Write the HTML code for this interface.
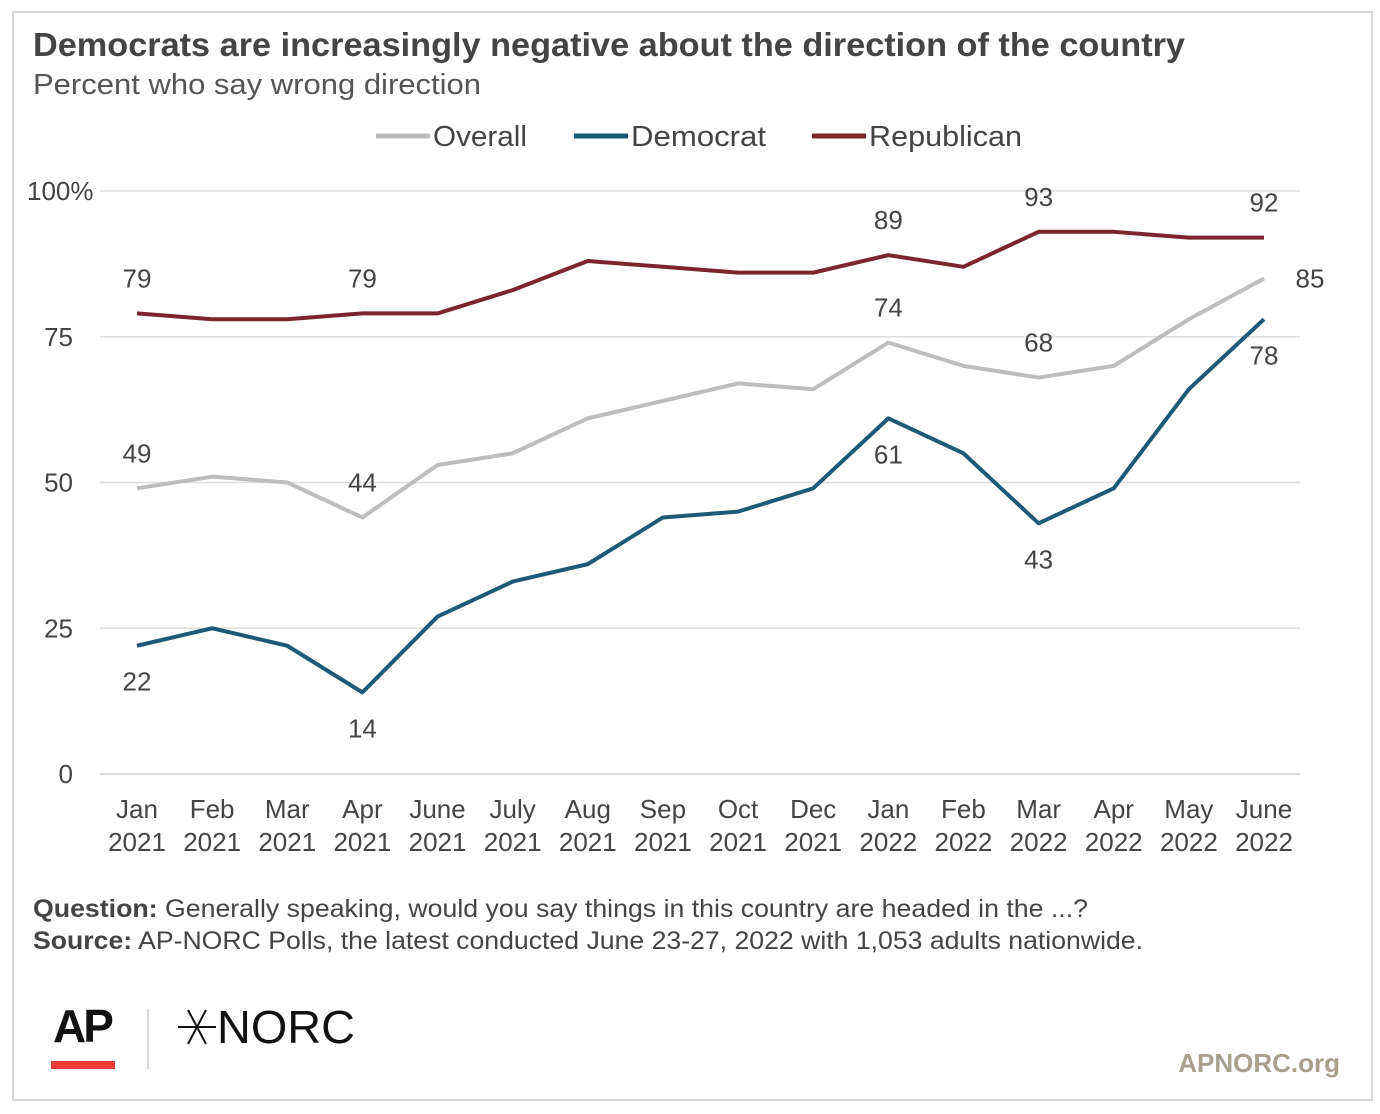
<!DOCTYPE html>
<html><head><meta charset="utf-8"><style>
html,body{margin:0;padding:0;background:#fff}
svg{display:block;font-family:"Liberation Sans",sans-serif}
</style></head><body>
<svg id="chart" width="1380" height="1114" viewBox="0 0 1380 1114">
<rect x="13" y="12" width="1359" height="1088" fill="#fff" stroke="#d6d6d6" stroke-width="2"/>
<text x="33" y="56" font-size="33" font-weight="bold" fill="#444" textLength="1152" lengthAdjust="spacingAndGlyphs">Democrats are increasingly negative about the direction of the country</text>
<text x="33" y="94" font-size="29" fill="#555" textLength="448" lengthAdjust="spacingAndGlyphs">Percent who say wrong direction</text>
<g font-size="29" fill="#444">
<line x1="376" y1="136" x2="430" y2="136" stroke="#bcbcbc" stroke-width="5"/>
<text x="433" y="146" textLength="94" lengthAdjust="spacingAndGlyphs">Overall</text>
<line x1="574" y1="136" x2="628" y2="136" stroke="#1e5a78" stroke-width="5"/>
<text x="631" y="146" textLength="135" lengthAdjust="spacingAndGlyphs">Democrat</text>
<line x1="812" y1="136" x2="866" y2="136" stroke="#7e2431" stroke-width="5"/>
<text x="869" y="146" textLength="153" lengthAdjust="spacingAndGlyphs">Republican</text>
</g>
<g id="grid"></g>
<g id="yticks" font-size="26" fill="#444"></g>
<g id="xticks" font-size="26" fill="#444" text-anchor="middle"></g>
<g id="series"></g>
<g id="labels" font-size="26" fill="#444" text-anchor="middle"></g>
<text x="33" y="917" font-size="25" fill="#444" textLength="1055" lengthAdjust="spacingAndGlyphs"><tspan font-weight="bold">Question:</tspan>  Generally speaking, would you say things in this country are headed in the ...?</text>
<text x="33" y="949" font-size="25" fill="#444" textLength="1110" lengthAdjust="spacingAndGlyphs"><tspan font-weight="bold">Source:</tspan> AP-NORC Polls, the latest conducted June 23-27, 2022 with 1,053 adults nationwide.</text>
<g>
<text x="53" y="1042" font-size="46" font-weight="bold" fill="#111" letter-spacing="-3">AP</text>
<rect x="51" y="1061" width="64" height="8" fill="#ef3b36"/>
</g>
<line x1="148" y1="1009" x2="148" y2="1069" stroke="#ccc" stroke-width="1.5"/>
<g>
<path d="M178 1027 H216 M188 1010 L206 1044 M206 1010 L188 1044" stroke="#111" stroke-width="2" fill="none"/>
<text x="217" y="1043" font-size="46" fill="#111" textLength="138" lengthAdjust="spacingAndGlyphs">NORC</text>
</g>
<text x="1340" y="1072" font-size="26" font-weight="bold" fill="#a89f8f" text-anchor="end">APNORC.org</text>
</svg>
<script>
const months=["Jan","Feb","Mar","Apr","June","July","Aug","Sep","Oct","Dec","Jan","Feb","Mar","Apr","May","June"];
const years=["2021","2021","2021","2021","2021","2021","2021","2021","2021","2021","2022","2022","2022","2022","2022","2022"];
const overall=[49,51,50,44,53,55,61,64,67,66,74,70,68,70,78,85];
const democrat=[22,25,22,14,27,33,36,44,45,49,61,55,43,49,66,78];
const republican=[79,78,78,79,79,83,88,87,86,86,89,87,93,93,92,92];
const yTicks=[0,25,50,75,100];
const yTickLabels=["0","25","50","75","100%"];
const overallLabelIdx=[0,3,10,12];
const democratLabelIdx=[0,3,10,12,15];
const republicanLabelIdx=[0,3,10,12,15];
const NS="http://www.w3.org/2000/svg";
const x=i=>137+i*(1264-137)/15;
const y=v=>774-v*(774-191)/100;
function mk(tag,attrs,parent){const e=document.createElementNS(NS,tag);for(const k in attrs)e.setAttribute(k,attrs[k]);parent.appendChild(e);return e;}
const grid=document.getElementById('grid'),yt=document.getElementById('yticks'),xt=document.getElementById('xticks'),ser=document.getElementById('series'),lab=document.getElementById('labels');
yTicks.forEach((t,i)=>{
 const l=mk('line',{x1:100,x2:1300,y1:y(t),y2:y(t),stroke:t===0?'#cfcfcf':'#dedede','stroke-width':1.5},grid);
 
 
 const tx=mk('text',{x:t===100?27:73,y:y(t)+9,'text-anchor':t===100?'start':'end'},yt);
 tx.textContent=yTickLabels[i];
 
 
});
months.forEach((m,i)=>{
 const t=mk('text',{x:x(i),y:818},xt);t.textContent=m;
 
 
 const t2=mk('text',{x:x(i),y:851},xt);t2.textContent=years[i];
 
 
});
function line(data,color,name){
 const p=mk('polyline',{points:data.map((v,i)=>x(i)+','+y(v)).join(' '),fill:'none',stroke:color,'stroke-width':4,'stroke-linejoin':'round'},ser);
 
 
}
line(overall,'#bdbdbd','overall-line');
line(democrat,'#1e5a78','democrat-line');
line(republican,'#7e2431','republican-line');
function label(data,idx,pos,name){
 idx.forEach(i=>{
  let lx=x(i),ly;
  if(pos(i)==='above')ly=y(data[i])-26;
  else if(pos(i)==='right'){lx=x(i)+46;ly=y(data[i])+9;}
  else ly=y(data[i])+45;
  const t=mk('text',{x:lx,y:ly},lab);t.textContent=data[i];
  
  
 });
}
label(republican,republicanLabelIdx,()=> 'above','republican-label');
label(overall,overallLabelIdx,()=> 'above','overall-label');
label(overall,[15],()=> 'right','overall-label');
label(democrat,democratLabelIdx,i=> 'below','democrat-label');
</script>
</body></html>
